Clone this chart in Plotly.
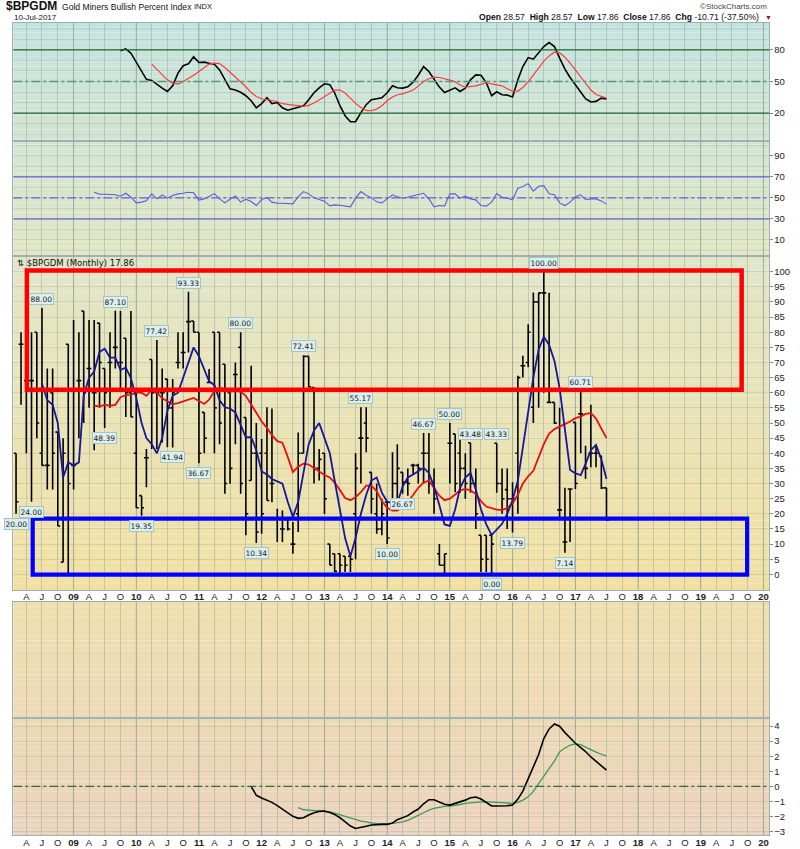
import plotly.graph_objects as go
import pandas as pd

W, H = 800, 849
def py(y):
    return 1 - y / H
X0, X1 = 13.3 / W, 769.3 / W

months = [d.strftime('%Y-%m-%d') for d in pd.date_range('2008-02-01', periods=114, freq='MS')]

bar_open = [40,76,64,64,80,40,36,60,47,4,76,36,64,87,68,60,83,68,70,75,70,78,60,40,26,38.5,71,60,60,64.5,
            55,70,73.3,83.5,83.7,80,53.5,63.4,80,80,69.4,60,66,75,51.8,31,40,40,40,30,18.4,15,18,10,20,40,72,61.7,35,40,
            10,6.8,6.8,6,6,20,45,50,33.7,20,15,23.8,23.8,30,33.7,30.4,36,36,40,40,30,6.8,3,43.3,46.4,40,35,43.5,30,12.9,
            12.9,12.9,43.33,30,28,25,40,68.9,70,55.2,90,93,56.8,56.8,21.3,10.7,28.2,50.2,53,35,40,40,39.2,28.57]
bar_high = [40,80,80,80,80,88,68,68,47,45,76,84,80,87,84,84,83,68,80,87.1,87,78,87,60,26,41.4,71,77.42,68,64.5,
            64.5,80,80,93.33,83.7,80,53.5,67.8,80,80,69.4,60,70,80,51.8,68.9,50,44.7,55.2,54.8,21.7,21.1,18.4,17.3,46.9,72.41,72,61.7,41.4,40,
            10,6.8,6.8,6,6,40,55.17,55.2,33.7,30,25,23.8,40.3,43,33.7,35,36.5,36.5,46.67,46.7,35,10,6.8,50,46.4,44.7,40,43.48,35,12.9,
            12.9,12.9,43.33,35,35,30.4,65.6,72.2,82.6,93.1,93,100,93,56.8,55,28.6,28.2,50.2,60.71,42.5,56,42.5,39.2,28.57]
bar_low = [20,56,40,24,45,36,28,28,16,4,0,28,45,50,55,41,55,48.39,55,68,61,52,52,22,19.35,28.8,41.4,41.4,43.6,42,
           41.94,68,68,73.3,80,36.67,40,63.4,40,43,26.6,29.9,43,26.6,12.9,31,10.34,13.4,24.4,23.8,10.7,10.7,14.5,6.8,14,40,61.7,30,31,20,
           3,0.8,0,0.8,0.8,5,30,40.3,20,13.4,12.9,10,23.8,25,26.67,26,33,30,30,26.6,20,3,0,30,27.1,27,25,27,15,0.8,
           0.8,0,27,20,15,13.79,20,65,68.4,50,55,60,56.8,49.7,18.4,7.14,10.7,28.2,40,31.5,35.4,35.4,28.2,17.86]
bar_close = [24,76,64,64,50,36,36,40,16,40,30,36,64,60,68,60,70,60,70,75,70,60,52,22,22,38.5,60,60,60,55,
             60,70,73.3,83.5,80,40,45,63.4,55,50,30,35,66,30,20,40,14,20,24.4,30,18.4,15,15,10,40,72,62,35,38,25,
             3,1,3,3,5,35,45,45,25,15,20,12,30,35,30.4,30,36,35,40,30,25,3,6.8,43.3,30,35,30,30,20,5,
             5,10,30,25,25,25,65,68.9,80,90,93,93,56.8,50,21.3,10.7,28.2,30,53,35,40,40,28.57,17.86]

main_fast = [63,57.5,56,50,32,37,36,37,59,65,67,73.5,74.5,71.6,71.6,67.6,68.3,64.8,58.3,50,
             45,43,40,45,54,59,60,65,70,75,72,67.8,63.8,62.5,57.5,55.2,54.8,53.5,49,45.3,
             45.3,41,34,33,31.5,30.8,30,24,19,24,33,43,47.5,50,45,40,31,21.5,12,6,
             12,20,26.3,31,32,27,24,23.5,23.5,29,32,33,34,35.2,33.5,29,22.8,16.5,16,21.5,
             28.5,32,33.5,28,21.5,16.5,13,15,16.7,20,24.5,31,42,53.5,65,74.3,78.5,75.8,70.5,61.5,
             47,34.5,33.4,32.8,36.5,41,42.8,38,31.5]
main_slow = [55.7,55.5,56,55.7,56,58.5,59.2,59.3,60.1,60,59,61,60,58.2,57.2,56.2,56.6,57.1,57.7,58.3,
             57.3,56.3,57.7,60.6,61.7,61.1,60.3,60.6,60.3,59,56.2,53.4,50.5,48.4,46,44,43.5,38.8,33.8,35.6,
             36.6,36.3,35.1,33.7,32.8,32,30.3,27.9,25.2,24.5,25.5,27.2,29.3,29.3,27.5,24.2,22,21.1,21.1,22.4,
             24,26.2,28.6,30.3,31,28.5,26,24.5,25,26.4,27.8,28.2,27.8,26.5,24.2,22.4,21.8,21.4,21.2,21.9,
             23.4,26.3,30,32.4,34.2,39,43,46.5,48,48.8,49.6,50.5,51.6,52.1,53,53.3,51.5,48.4,45]

osc_line = [79.1,81,76.9,68.7,60,52,51,47,43.7,40.5,46,58,65,66.8,73.4,68,68.4,67.4,66.5,61,
            51.6,43,42,39.8,36.5,31.7,25,29,34.6,29,30,25,22.7,24,25,27,32.7,39.3,44,47.8,
            47,39.3,27,17.5,11.8,11.8,20.4,28,32.7,33.6,34.6,39.3,46,44,43.7,45,49.4,56,64.2,59.5,
            51.6,44.7,39.6,42,44,40.5,43.7,51.6,56.3,56,49,36.5,40.2,37.4,37.1,35.2,51.6,64.2,72.7,71.2,
            76.9,83.2,87,83.2,72.2,61.7,53.8,46.9,39,33.6,30.5,31.1,34.2,33.3]
osc_signal = [66.5,61.4,56.3,51.6,48.5,47.5,50,52.8,56,59.5,63.6,66.5,67.4,67,63.3,58.9,54.7,50,45,39.6,
              35.8,33.6,32.7,31.7,31,28.9,27.9,27.6,27,26.3,27.3,29.5,32.4,35.5,39.3,41.9,41.9,39,34.2,29.2,
              25.4,22.5,22.2,23.8,27,31.7,35.2,37.4,38.3,40,41.9,45.6,50,52.6,54.1,53.8,52.8,51.3,49.7,46.6,
              44.7,45,45.9,47.2,48.8,47.8,46.9,45.9,43.1,40.9,40.9,44.3,49.7,56,62.7,69.3,74.3,77.8,77.2,73.1,
              67.4,60.8,53.8,47.5,41.9,37.7,35.8,34.2]
rsi_vals = [55.4,53.5,53.5,53.5,52.9,51.6,54.4,50.6,45.2,45.9,47.1,53.8,49,52.9,49.7,52.2,53.8,54.4,55.4,54.8,
            47.8,49,51.6,54.1,49,45.2,48.7,51.9,45.9,48.7,46.5,42.7,48.4,50.3,45.9,44.9,44.9,44.3,44.3,51.2,
            56,53.8,50,48.4,46.8,42.4,43.3,43,42.4,41.4,49.7,56,52.5,50,46.2,45.2,49,52.9,51,49.7,
            50.6,52.2,53.2,54.4,49,41.4,42.7,42.1,53.8,53.8,49.7,51.6,49,48.1,42.7,42.1,45.9,54.1,50.6,49.7,
            48.1,59.2,60.8,63.6,56.4,61.1,61.7,53.8,52.9,45.2,42.7,45.9,51,52.9,48.4,49,49,47.1,44]
macd_line = [0,-0.6,-0.78,-0.94,-1.07,-1.29,-1.51,-1.76,-2,-2.13,-2.09,-1.91,-1.76,-1.67,-1.64,-1.74,-1.87,-2.09,-2.35,-2.64,
             -2.8,-2.75,-2.66,-2.57,-2.53,-2.53,-2.53,-2.44,-2.22,-2.09,-1.95,-1.71,-1.51,-1.16,-0.89,-0.89,-1.03,-1.2,-1.25,-1.14,
             -1.07,-0.92,-0.76,-0.72,-0.85,-1.07,-1.31,-1.31,-1.31,-1.29,-1.25,-0.85,-0.32,0.5,1.29,2.11,3.17,3.81,4.14,3.99,
             3.57,3.21,2.86,2.57,2.31,1.95,1.67,1.38,1.07]
macd_signal = [-1.42,-1.56,-1.58,-1.6,-1.62,-1.64,-1.71,-1.78,-1.89,-2,-2.11,-2.22,-2.31,-2.37,-2.44,-2.46,-2.48,-2.48,-2.46,-2.44,
               -2.37,-2.26,-2.11,-1.93,-1.76,-1.58,-1.47,-1.38,-1.34,-1.31,-1.27,-1.21,-1.14,-1.09,-1.05,-1.03,-1.03,-1.03,-1.07,-1.09,
               -1.11,-1.14,-1.07,-0.92,-0.7,-0.34,0.17,0.7,1.18,1.67,2.29,2.55,2.73,2.82,2.77,2.6,2.42,2.27,2.13,2]

label_idx = [0,3,5,17,19,24,27,30,33,35,43,46,55,66,71,74,78,83,87,91,92,95,101,105,108]
label_txt = ['20.00','24.00','88.00','48.39','87.10','19.35','77.42','41.94','93.33','36.67','80.00','10.34','72.41',
             '55.17','10.00','26.67','46.67','50.00','43.48','0.00','43.33','13.79','100.00','7.14','60.71']
label_val = [20,24,88,48.39,87.1,19.35,77.42,41.94,93.33,36.67,80,10.34,72.41,55.17,10,26.67,46.67,50,43.48,0,43.33,13.79,100,7.14,60.71]
label_side = ['low','low','high','low','high','low','high','low','high','low','high','low','high',
              'high','low','low','high','high','high','low','high','low','high','low','high']

main_ticks = list(range(0, 101, 5))
osc_ticks = [20, 50, 80]
rsi_ticks = [10, 30, 50, 70, 90]
macd_ticks = [-3, -2, -1, 0, 1, 2, 3, 4]

q_dates = [d.strftime('%Y-%m-%d') for d in pd.date_range('2008-04-01', '2020-01-01', freq='QS')]
q_text = []
for d in pd.date_range('2008-04-01', '2020-01-01', freq='QS'):
    q_text.append('<b>%02d</b>' % (d.year % 100) if d.month == 1 else {4: 'A', 7: 'J', 10: 'O'}[d.month])
year_dates = [d for d in q_dates if d.endswith('-01-01')]

XR = ['2008-01-16', '2020-02-04']
FONT = 'Liberation Sans, Arial, sans-serif'

fig = go.Figure()

fig.add_trace(go.Scatter(x=months[20:], y=osc_line, xaxis='x', yaxis='y', mode='lines',
                         line=dict(color='black', width=1.6), showlegend=False, hoverinfo='skip'))
fig.add_trace(go.Scatter(x=months[26:], y=osc_signal, xaxis='x', yaxis='y', mode='lines',
                         line=dict(color='#ff3a3a', width=1.2), showlegend=False, hoverinfo='skip'))
fig.add_trace(go.Scatter(x=months[15:], y=rsi_vals, xaxis='x2', yaxis='y2', mode='lines',
                         line=dict(color='#5a5ae0', width=1.1), showlegend=False, hoverinfo='skip'))
fig.add_trace(go.Scatter(x=months[15:], y=main_slow, xaxis='x3', yaxis='y3', mode='lines',
                         line=dict(color='#e81010', width=1.8), showlegend=False, hoverinfo='skip'))
fig.add_trace(go.Ohlc(x=months, open=bar_open, high=bar_high, low=bar_low, close=bar_close,
                      xaxis='x3', yaxis='y3', increasing=dict(line=dict(color='black', width=1.6)),
                      decreasing=dict(line=dict(color='black', width=1.6)), tickwidth=0.5,
                      showlegend=False, hoverinfo='skip'))
fig.add_trace(go.Scatter(x=months[5:], y=main_fast, xaxis='x3', yaxis='y3', mode='lines',
                         line=dict(color='#16169a', width=1.8), showlegend=False, hoverinfo='skip'))
fig.add_trace(go.Scatter(x=months[54:], y=macd_signal, xaxis='x5', yaxis='y5', mode='lines',
                         line=dict(color='#3c9a58', width=1.3), showlegend=False, hoverinfo='skip'))
fig.add_trace(go.Scatter(x=months[45:], y=macd_line, xaxis='x5', yaxis='y5', mode='lines',
                         line=dict(color='black', width=1.6), showlegend=False, hoverinfo='skip'))
fig.add_trace(go.Scatter(x=[months[0]], y=[0.5], xaxis='x4', yaxis='y4', mode='markers',
                         marker=dict(opacity=0), showlegend=False, hoverinfo='skip'))

GRID = 'rgba(140,165,150,0.45)'
HGRID = 'rgba(150,170,150,0.30)'
LINEC = '#9db0b2'

def xax(anchor, labels, standoff=0):
    return dict(domain=[X0, X1], range=XR, type='date', anchor=anchor,
                tickmode='array', tickvals=q_dates, ticktext=q_text,
                showticklabels=labels, ticks='', showgrid=True, gridcolor=GRID, gridwidth=1,
                showline=True, mirror=True, linecolor=LINEC, linewidth=1, zeroline=False,
                tickfont=dict(family=FONT, size=9.5, color='#222'), ticklabelstandoff=standoff,
                rangeslider=dict(visible=False), fixedrange=True)

def yax(anchor, dom, rng, tickvals, minor_dtick=None, showgrid=False):
    d = dict(domain=dom, range=rng, anchor=anchor, side='right', tickmode='array', tickvals=tickvals,
             ticks='outside', ticklen=3, tickcolor='#888', showgrid=showgrid, gridcolor=HGRID,
             showline=True, mirror=True, linecolor=LINEC, linewidth=1, zeroline=False,
             tickfont=dict(family=FONT, size=9.5, color='#222'), ticklabelstandoff=-1, fixedrange=True)
    if minor_dtick:
        d['minor'] = dict(tickmode='linear', tick0=0, dtick=minor_dtick, showgrid=True, gridcolor=HGRID, ticks='')
    return d

fig.update_layout(
    width=W, height=H, margin=dict(l=0, r=0, t=0, b=0),
    paper_bgcolor='white', plot_bgcolor='rgba(0,0,0,0)',
    xaxis=xax('y', False), xaxis2=xax('y2', False), xaxis3=xax('y3', True, -3),
    xaxis4=xax('y4', False), xaxis5=xax('y5', True, -1),
    yaxis=yax('x', [py(141), py(22.7)], [-6.2, 105.9], osc_ticks, 10),
    yaxis2=yax('x2', [py(257), py(141)], [-5.9, 104.6], rsi_ticks, 10),
    yaxis3=yax('x3', [py(591.5), py(257)], [-5.2, 105.04], main_ticks, None, True),
    yaxis4=dict(domain=[py(720), py(603)], range=[0, 1], anchor='x4', showticklabels=False, ticks='',
                showgrid=False, showline=True, mirror=True, linecolor=LINEC, zeroline=False, fixedrange=True),
    yaxis5=yax('x5', [py(837), py(720)], [-3.24, 4.52], macd_ticks, None, True),
    showlegend=False,
)

shapes = []
def grad(y_top, y_bot, c_top, c_bot, n=48):
    for k in range(n):
        t = (k + 0.5) / n
        c = tuple(round(c_top[j] + (c_bot[j] - c_top[j]) * t) for j in range(3))
        shapes.append(dict(type='rect', xref='paper', yref='paper', x0=X0, x1=X1,
                           y0=py(y_top + (y_bot - y_top) * (k + 1) / n),
                           y1=py(y_top + (y_bot - y_top) * k / n),
                           fillcolor='rgb(%d,%d,%d)' % c, line=dict(width=0), layer='below'))
grad(22.7, 257, (196, 227, 224), (226, 230, 196))
grad(257, 591.5, (226, 230, 201), (242, 224, 163))
grad(603, 837, (239, 223, 173), (236, 211, 190))

for yd in year_dates:
    for (yt, yb) in [(22.7, 257), (257, 591.5), (603, 837)]:
        shapes.append(dict(type='line', xref='x3', yref='paper', x0=yd, x1=yd, y0=py(yb), y1=py(yt),
                           line=dict(color='rgba(120,150,130,0.55)', width=1), layer='below'))

shapes.append(dict(type='line', xref='paper', yref='paper', x0=X0, x1=X1, y0=py(720), y1=py(720),
                   line=dict(color='#9fb6c0', width=1.2)))
for v, dash in [(80, 'solid'), (20, 'solid'), (50, 'dashdot')]:
    shapes.append(dict(type='line', xref='x domain', yref='y', x0=0, x1=1, y0=v, y1=v,
                       line=dict(color='#1c6b2c' if dash == 'solid' else '#5e957a', width=1.3, dash=dash)))
for v, dash in [(70, 'solid'), (30, 'solid'), (50, 'dashdot')]:
    shapes.append(dict(type='line', xref='x2 domain', yref='y2', x0=0, x1=1, y0=v, y1=v,
                       line=dict(color='#6161dd', width=1.3, dash=dash)))
shapes.append(dict(type='line', xref='x5 domain', yref='y5', x0=0, x1=1, y0=0, y1=0,
                   line=dict(color='#2e6e3a', width=1.2, dash='dashdot')))

red_box = dict(x0='2008-04-04', x1='2019-08-27', y0=61.0, y1=100.4)
blue_box = dict(x0='2008-05-08', x1='2019-09-28', y0=-0.1, y1=18.4)
shapes.append(dict(type='rect', xref='x3', yref='y3', **red_box, line=dict(color='#ff0000', width=4.5)))
shapes.append(dict(type='rect', xref='x3', yref='y3', **blue_box, line=dict(color='#0000ff', width=4.2)))

annotations = []
for i, t, v, s in zip(label_idx, label_txt, label_val, label_side):
    annotations.append(dict(x=months[i], y=v, xref='x3', yref='y3', text=t, showarrow=False,
                            yshift=9 if s == 'high' else -10,
                            font=dict(family='DejaVu Sans, sans-serif', size=7.5, color='#222'),
                            bgcolor='#dcefee', bordercolor='#a6c6c6', borderwidth=1, borderpad=0.5))

def txt(x, y, text, size, xanchor='left', color='#111', family=FONT):
    annotations.append(dict(x=x / W, y=py(y), xref='paper', yref='paper', text=text, showarrow=False,
                            xanchor=xanchor, yanchor='middle', font=dict(family=family, size=size, color=color)))

txt(4, 6.5, '<b>$BPGDM</b>', 12)
txt(60, 7, 'Gold Miners Bullish Percent Index', 8.6)
txt(192, 7, 'INDX', 7.5)
txt(12, 17.5, '10-Jul-2017', 8)
txt(769, 6.5, '©StockCharts.com', 8, 'right', '#444')
txt(761, 17.5, '<b>Open</b> 28.57  <b>High</b> 28.57  <b>Low</b> 17.86  <b>Close</b> 17.86  <b>Chg</b> -10.71 (-37.50%)', 8.6, 'right')
txt(763, 17.5, '▼', 7, 'left', '#a01030')
txt(15, 263.5, '⇅ $BPGDM (Monthly) 17.86', 8.5, 'left', '#111', 'DejaVu Sans, sans-serif')

fig.update_layout(shapes=shapes, annotations=annotations)
fig.write_html('out.html', config={'displayModeBar': False},
               post_script="document.body.style.margin='0px';document.body.style.overflow='hidden';")
